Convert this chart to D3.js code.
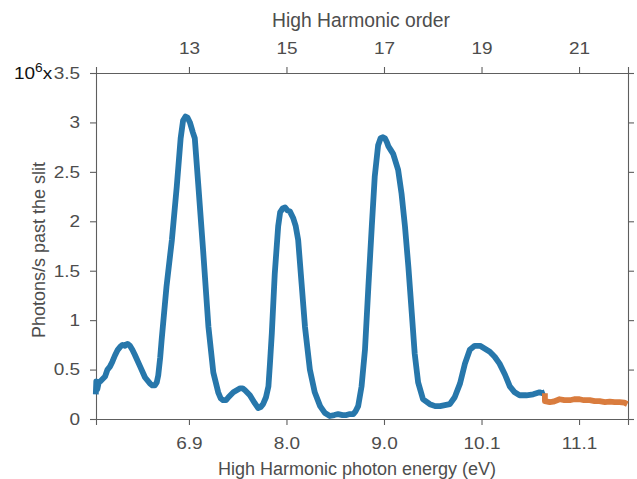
<!DOCTYPE html>
<html><head><meta charset="utf-8">
<script src="https://cdn.jsdelivr.net/npm/d3@7"></script>
<style>body{margin:0;background:#fff}svg{display:block}</style>
</head><body>
<svg id="chart" width="637" height="479"></svg>
<script>
// ---- data (x = harmonic order, y = photons/s in units of 1e6) ----
const blueOrder = [11.09,11.10,11.12,11.15,11.18,11.22,11.28,11.33,11.38,11.43,11.48,11.54,11.59,11.64,11.69,11.74,11.79,11.84,11.89,12.00,12.10,12.20,12.25,12.30,12.34,12.37,12.41,12.44,12.54,12.65,12.75,12.83,12.88,12.93,12.97,13.02,13.08,13.12,13.19,13.29,13.40,13.50,13.60,13.65,13.70,13.76,13.81,13.91,13.98,14.05,14.10,14.15,14.25,14.35,14.42,14.47,14.52,14.58,14.63,14.66,14.70,14.76,14.83,14.87,14.92,14.97,15.02,15.07,15.14,15.19,15.24,15.31,15.38,15.48,15.58,15.69,15.79,15.89,15.98,16.06,16.15,16.23,16.30,16.37,16.42,16.47,16.54,16.61,16.68,16.75,16.81,16.88,16.93,16.98,17.02,17.06,17.09,17.14,17.19,17.29,17.36,17.43,17.50,17.57,17.63,17.70,17.80,17.94,18.05,18.15,18.25,18.35,18.45,18.56,18.66,18.76,18.86,18.97,19.07,19.17,19.27,19.37,19.48,19.58,19.68,19.78,19.92,20.06,20.19,20.25,20.30];
const blueValue = [0.25,0.38,0.30,0.37,0.38,0.40,0.43,0.50,0.53,0.58,0.64,0.70,0.73,0.75,0.74,0.76,0.74,0.70,0.65,0.53,0.42,0.36,0.34,0.34,0.37,0.44,0.62,0.80,1.34,1.81,2.35,2.84,3.02,3.06,3.05,3.00,2.90,2.84,2.38,1.71,0.93,0.47,0.27,0.21,0.19,0.19,0.22,0.27,0.29,0.31,0.31,0.29,0.24,0.16,0.11,0.12,0.15,0.22,0.33,0.55,0.87,1.47,1.95,2.09,2.13,2.14,2.11,2.10,2.03,1.95,1.81,1.37,0.93,0.50,0.27,0.13,0.06,0.03,0.04,0.05,0.04,0.04,0.05,0.05,0.08,0.13,0.33,0.70,1.34,1.95,2.45,2.77,2.84,2.85,2.84,2.80,2.76,2.72,2.68,2.52,2.28,1.95,1.54,1.07,0.66,0.37,0.20,0.15,0.13,0.13,0.14,0.15,0.22,0.36,0.56,0.70,0.74,0.74,0.71,0.68,0.63,0.56,0.45,0.33,0.27,0.24,0.24,0.25,0.27,0.26,0.27];
const orangeOrder = [20.30,20.30,20.40,20.47,20.55,20.60,20.70,20.81,20.90,21.01,21.10,21.22,21.32,21.42,21.53,21.63,21.73,21.83,21.93,21.99];
const orangeValue = [0.26,0.18,0.17,0.175,0.19,0.20,0.19,0.19,0.20,0.20,0.19,0.19,0.18,0.18,0.17,0.175,0.17,0.17,0.165,0.15];
const orderTicks = [13,15,17,19,21];
const orderLabels = ["13","15","17","19","21"];
const energyLabels = ["6.9","8.0","9.0","10.1","11.1"];
const yTicks = [0,0.5,1,1.5,2,2.5,3,3.5];
const yTickLabels = ["0","0.5","1","1.5","2","2.5","3","3.5"];

const svg = d3.select("#chart");
const L = 96, R = 628, T = 73, B = 419;
const x = d3.scaleLinear().domain([11.094, 22.004]).range([L, R]);
const y = d3.scaleLinear().domain([0, 3.5]).range([B, T]);
const font = "'Liberation Sans', Arial, Helvetica, sans-serif";
const axisCol = "#5e5e5e", textCol = "#4d4d4d";
const SX = 1.15; // horizontal stretch of tick text

function styleAxis(g){
  g.selectAll("path.domain").attr("stroke", axisCol).attr("stroke-width", 1.1);
  g.selectAll(".tick line").attr("stroke", axisCol).attr("stroke-width", 1.1);
  g.selectAll("text").attr("fill", textCol).style("font-family", font).style("font-size", "16.5px");
}

// bottom
const gB = svg.append("g").attr("transform", `translate(0,${B})`)
  .call(d3.axisBottom(x).tickValues(orderTicks).tickFormat((d,i)=>energyLabels[i]).tickSizeOuter(0).tickSize(6).tickPadding(12));
styleAxis(gB);
gB.selectAll(".tick text").attr("transform", `scale(${SX},1)`);
// top
const gT = svg.append("g").attr("transform", `translate(0,${T})`)
  .call(d3.axisTop(x).tickValues(orderTicks).tickFormat((d,i)=>orderLabels[i]).tickSizeOuter(0).tickSize(6).tickPadding(13));
styleAxis(gT);
gT.selectAll(".tick text").attr("transform", `scale(${SX},1)`);
// left
const gL = svg.append("g").attr("transform", `translate(${L},0)`)
  .call(d3.axisLeft(y).tickValues(yTicks).tickFormat((d,i)=>yTickLabels[i]).tickSizeOuter(0).tickSize(6).tickPadding(10));
styleAxis(gL);
gL.selectAll(".tick text").attr("x", -16 / SX).attr("transform", `scale(${SX},1)`);
// right
const gR = svg.append("g").attr("transform", `translate(${R},0)`)
  .call(d3.axisRight(y).tickValues(yTicks).tickFormat("").tickSizeOuter(0).tickSize(6));
styleAxis(gR);

// lines
const line = d3.line().x(d=>x(d[0])).y(d=>y(d[1])).curve(d3.curveLinear);
const blue = blueOrder.map((o,i)=>[o, blueValue[i]]);
const orange = orangeOrder.map((o,i)=>[o, orangeValue[i]]);
svg.append("path").datum(blue).attr("d", line).attr("fill","none")
  .attr("stroke","#2777ab").attr("stroke-width",5.8).attr("stroke-linejoin","round").attr("stroke-linecap","butt");
svg.append("path").datum(orange).attr("d", line).attr("fill","none")
  .attr("stroke","#d97c3e").attr("stroke-width",5.8).attr("stroke-linejoin","round").attr("stroke-linecap","butt");

// axis titles
svg.append("text").attr("x", 361).attr("y", 27).attr("text-anchor","middle")
  .attr("fill", textCol).style("font-family", font).style("font-size","19.3px").text("High Harmonic order");
svg.append("text").attr("x", 357).attr("y", 475).attr("text-anchor","middle")
  .attr("fill", textCol).style("font-family", font).style("font-size","18px").text("High Harmonic photon energy (eV)");
svg.append("text").attr("transform","translate(45,250) rotate(-90)").attr("text-anchor","middle")
  .attr("fill", textCol).style("font-family", font).style("font-size","18px").text("Photons/s past the slit");

// exponent
const ex = svg.append("text").attr("transform", `translate(14,79) scale(${SX},1)`).attr("x", 0).attr("y", 0).attr("fill","#111")
  .style("font-family", font).style("font-size","16.5px");
ex.append("tspan").text("10");
ex.append("tspan").attr("dy", -7).style("font-size","12px").text("6");
ex.append("tspan").attr("dy", 7).text("x");
</script>
</body></html>
